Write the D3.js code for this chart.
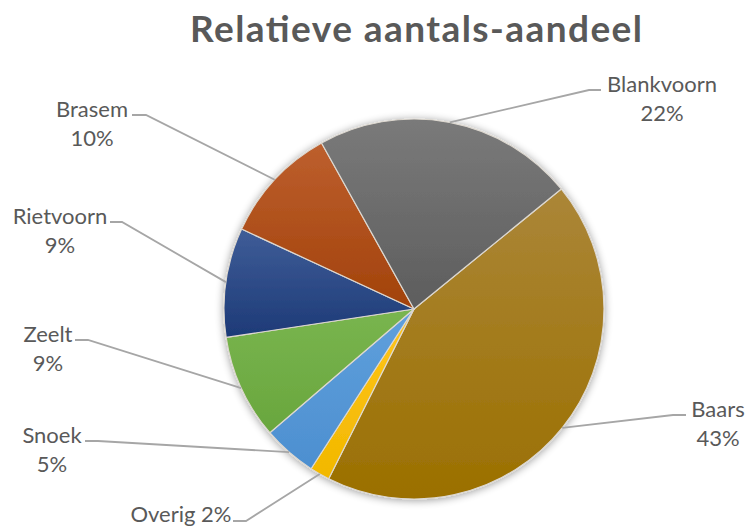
<!DOCTYPE html>
<html>
<head>
<meta charset="utf-8">
<script src="https://cdn.jsdelivr.net/npm/d3@7"></script>
<style>
  html, body { margin: 0; padding: 0; background: #ffffff; }
  svg { display: block; }
</style>
</head>
<body>
<div id="chart"></div>
<script>
// ---- data ----
const title = "Relatieve aantals-aandeel";
const categories = ["Baars", "Overig", "Snoek", "Zeelt", "Rietvoorn", "Brasem", "Blankvoorn"];
const values = [43.3, 1.7, 4.6, 8.9, 9.3, 10.0, 22.2];
const percentLabels = ["43%", "2%", "5%", "9%", "9%", "10%", "22%"];

// ---- styles / layout (not data) ----
const colorsTop = ["#ab8638", "#ffc51a", "#5fa0dc", "#79b54f", "#3f5d98", "#bd5f2e", "#7a7a7a"];
const colorsBottom = ["#9b7000", "#f2b800", "#4d8fd0", "#69a63d", "#1d3a77", "#a2420a", "#5d5d5d"];
// label anchor (center x, first baseline y), leader horizontal stub start x, stub end x, one-line flag
const labelLayout = [
  { x: 718, y: 417, stubA: 686, stubB: 673, inline: false },
  { x: 181, y: 522, stubA: 233, stubB: 246, inline: true },
  { x: 52,  y: 443, stubA: 85,  stubB: 98,  inline: false },
  { x: 48,  y: 342, stubA: 75,  stubB: 88,  inline: false },
  { x: 60,  y: 224, stubA: 110, stubB: 122, inline: false },
  { x: 92,  y: 117, stubA: 132, stubB: 146, inline: false },
  { x: 662, y: 92,  stubA: 601, stubB: 589, inline: false }
];

const W = 748, H = 526;
const cx = 414, cy = 309, R = 190;
const startDeg = 50.8;

const svg = d3.select("#chart").append("svg")
  .attr("width", W).attr("height", H);

const defs = svg.append("defs");
const shadow = defs.append("filter").attr("id", "shadow")
  .attr("x", "-20%").attr("y", "-20%").attr("width", "140%").attr("height", "140%");
shadow.append("feGaussianBlur").attr("in", "SourceAlpha").attr("stdDeviation", 4).attr("result", "b");
shadow.append("feOffset").attr("in", "b").attr("dx", 0).attr("dy", 1).attr("result", "o");
shadow.append("feComponentTransfer").attr("in", "o").attr("result", "s")
  .append("feFuncA").attr("type", "linear").attr("slope", 0.4);
const merge = shadow.append("feMerge");
merge.append("feMergeNode").attr("in", "s");
merge.append("feMergeNode").attr("in", "SourceGraphic");

categories.forEach((c, i) => {
  const g = defs.append("linearGradient").attr("id", "grad" + i)
    .attr("x1", 0).attr("y1", 0).attr("x2", 0).attr("y2", 1);
  g.append("stop").attr("offset", "0%").attr("stop-color", colorsTop[i]);
  g.append("stop").attr("offset", "100%").attr("stop-color", colorsBottom[i]);
});

// title
svg.append("text")
  .attr("x", 416).attr("y", 42)
  .attr("text-anchor", "middle")
  .attr("font-family", "Lato, 'Open Sans', sans-serif")
  .attr("font-weight", "bold")
  .attr("font-size", 37)
  .attr("textLength", 452)
  .attr("lengthAdjust", "spacing")
  .attr("fill", "#595959")
  .text(title);

const pie = d3.pie().sort(null).value(d => d)
  .startAngle(startDeg * Math.PI / 180)
  .endAngle(startDeg * Math.PI / 180 + 2 * Math.PI);
const arcs = pie(values);
const arc = d3.arc().innerRadius(0).outerRadius(R);

const pieG = svg.append("g").attr("transform", `translate(${cx},${cy})`);
pieG.append("g").attr("filter", "url(#shadow)")
  .selectAll("path").data(arcs).join("path")
  .attr("d", arc)
  .attr("fill", (d, i) => `url(#grad${i})`)
  .attr("stroke", "#ddd8d0")
  .attr("stroke-width", 1.2)
  .attr("stroke-linejoin", "round");

// leader lines
const leaders = svg.append("g");
arcs.forEach((d, i) => {
  const a = (d.startAngle + d.endAngle) / 2;
  const px = cx + R * Math.sin(a), py = cy - R * Math.cos(a);
  const L = labelLayout[i];
  const ly = L.inline ? L.y - 1 : L.y - 2;
  leaders.append("polyline")
    .attr("points", `${L.stubA},${ly} ${L.stubB},${ly} ${px},${py}`)
    .attr("fill", "none")
    .attr("stroke", "#a6a6a6")
    .attr("stroke-width", 1.8);
});

// labels
const labels = svg.append("g")
  .attr("font-family", "Lato, 'Open Sans', sans-serif")
  .attr("font-size", 22)
  .attr("fill", "#595959")
  .attr("text-anchor", "middle");
categories.forEach((c, i) => {
  const L = labelLayout[i];
  if (L.inline) {
    labels.append("text").attr("x", L.x).attr("y", L.y).text(c + " " + percentLabels[i]);
  } else {
    labels.append("text").attr("x", L.x).attr("y", L.y).text(c);
    labels.append("text").attr("x", L.x).attr("y", L.y + 29).text(percentLabels[i]);
  }
});
</script>
</body>
</html>
